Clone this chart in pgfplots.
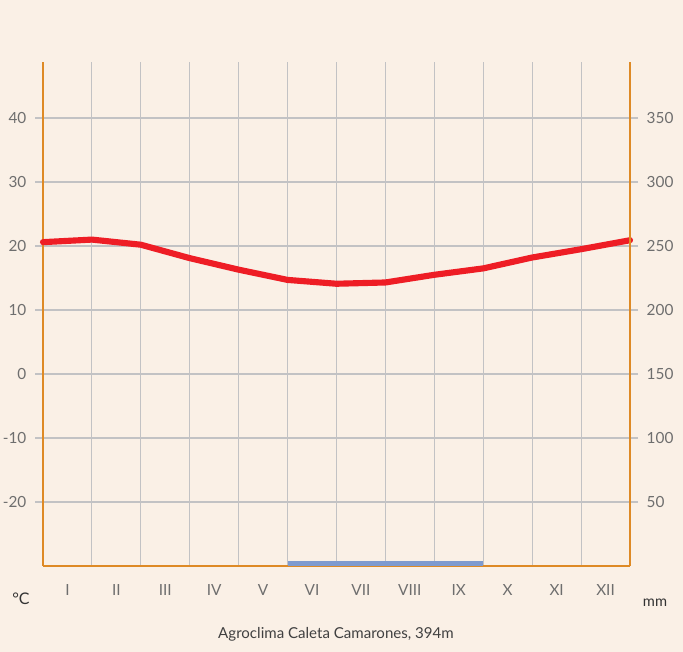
\documentclass[border=0pt]{standalone}
\usepackage{pgfplots}
\pgfplotsset{compat=1.18}
\usepackage{fontspec}
\setmainfont{Lato}
\definecolor{bg}{HTML}{FAF0E6}
\definecolor{axorange}{HTML}{DE8A26}
\definecolor{gridgray}{HTML}{C2C2C4}
\definecolor{tickgray}{HTML}{6E6E6E}
\definecolor{tred}{HTML}{EE1D25}
\definecolor{barblue}{HTML}{7F9BCF}
\begin{document}
\begin{tikzpicture}[x=1pt,y=1pt]
\fill[bg] (0,0) rectangle (512.25,489);
\begin{axis}[
  at={(32.25pt,64.5pt)}, anchor=south west,
  scale only axis, width=440.25pt, height=378pt,
  xmin=0, xmax=12, ymin=-30, ymax=48.75,
  axis x line*=bottom, axis y line*=left,
  axis line style={draw=axorange, line width=1.2pt},
  xtick={0.5,1.5,...,11.5},
  xticklabels={I,II,III,IV,V,VI,VII,VIII,IX,X,XI,XII},
  minor xtick={0,1,...,12}, xminorgrids,
  xtick style={draw=none}, minor x tick style={draw=none},
  ytick={-20,-10,...,40}, ymajorgrids,
  grid style={draw=gridgray, line width=0.8pt},
  minor grid style={draw=gridgray, line width=0.8pt},
  major tick length=6pt, tick align=outside,
  ytick style={draw=gridgray, line width=0.8pt},
  tick label style={font=\fontsize{11.5}{13}\selectfont, text=tickgray},
  xticklabel style={anchor=base, yshift=-16.5pt},
  yticklabel style={anchor=east, xshift=-3pt},
  /pgf/number format/assume math mode=true,
  clip=false,
]
\addplot[fill=barblue, draw=none] coordinates {(5,-30) (9,-30) (9,-29.2) (5,-29.2)} -- cycle;
\addplot[tred, line width=4.6pt, line join=round, line cap=round] coordinates {
  (0,20.6) (1,21.0) (2,20.2) (3,18.1) (4,16.3) (5,14.7) (6,14.1)
  (7,14.3) (8,15.5) (9,16.5) (10,18.2) (11,19.5) (12,20.9)};
\end{axis}
\begin{axis}[
  at={(32.25pt,64.5pt)}, anchor=south west,
  scale only axis, width=440.25pt, height=378pt,
  xmin=0, xmax=12, ymin=0, ymax=393.75,
  axis x line=none, axis y line*=right,
  axis line style={draw=axorange, line width=1.2pt},
  ytick={50,100,...,350},
  major tick length=6pt, tick align=outside,
  ytick style={draw=gridgray, line width=0.8pt},
  tick label style={font=\fontsize{11.5}{13}\selectfont, text=tickgray},
  yticklabel style={anchor=west, xshift=3pt},
  /pgf/number format/assume math mode=true,
]
\end{axis}
\node[anchor=base, text=black!80, font=\fontsize{12}{14}\selectfont] at (15.75,35.25) {°C};
\node[anchor=base, text=black!80, font=\fontsize{11}{13}\selectfont] at (491.25,33.75) {mm};
\node[anchor=base, text=black!75, font=\fontsize{11.3}{13}\selectfont] at (252,9.75) {Agroclima Caleta Camarones, 394m};
\pgfresetboundingbox
\useasboundingbox (0,0) rectangle (512.25,489);
\end{tikzpicture}
\end{document}
